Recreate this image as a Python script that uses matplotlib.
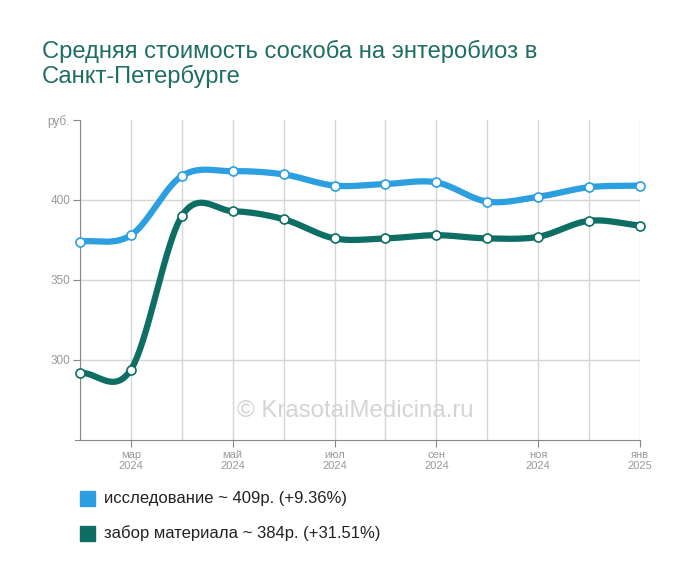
import numpy as np
import matplotlib.pyplot as plt
from matplotlib.patches import Rectangle

plt.rcParams['font.family'] = ['Liberation Sans', 'DejaVu Sans']

months = ["фев 2024", "мар 2024", "апр 2024", "май 2024", "июн 2024", "июл 2024",
          "авг 2024", "сен 2024", "окт 2024", "ноя 2024", "дек 2024", "янв 2025"]
tick_idx = [1, 3, 5, 7, 9, 11]
tick_labels = ["мар\n2024", "май\n2024", "июл\n2024", "сен\n2024", "ноя\n2024", "янв\n2025"]
research = [374, 378, 415, 418, 416, 409, 410, 411, 399, 402, 408, 409]
sampling = [292, 294, 390, 393, 388, 376, 376, 378, 376, 377, 387, 384]
names = ["исследование ~ 409р. (+9.36%)", "забор материала ~ 384р. (+31.51%)"]
colors = ["#2b9fe0", "#0d6e64"]


def smooth(y, n=30):
    # catmull-rom style curve through the points
    y = np.asarray(y, float)
    m = np.gradient(y)
    xs, ys = [], []
    for i in range(len(y) - 1):
        t = np.linspace(0, 1, n, endpoint=False)
        h00 = 2 * t**3 - 3 * t**2 + 1
        h10 = t**3 - 2 * t**2 + t
        h01 = -2 * t**3 + 3 * t**2
        h11 = t**3 - t**2
        xs.append(i + t)
        ys.append(h00 * y[i] + h10 * m[i] + h01 * y[i + 1] + h11 * m[i + 1])
    xs.append([len(y) - 1])
    ys.append([y[-1]])
    return np.concatenate(xs), np.concatenate(ys)


fig = plt.figure(figsize=(7, 5.83), dpi=100)
ax = fig.add_axes([80 / 700, 143 / 583, 560 / 700, 320 / 583])

x = np.arange(len(months))
for vals, c in zip([research, sampling], colors):
    sx, sy = smooth(vals)
    ax.plot(sx, sy, color=c, lw=4.5, solid_capstyle="round", zorder=3, clip_on=False)
    ax.plot(x, vals, "o", ms=6.5, mfc="white", mec=c, mew=1.2, zorder=4, clip_on=False)

ax.set_xlim(0, 11)
ax.set_ylim(250, 450)
ax.set_yticks([300, 350, 400, 450])
ax.set_yticklabels(["300", "350", "400", "руб."])
ax.set_xticks(x, minor=True)
ax.set_xticks(tick_idx)
ax.set_xticklabels(tick_labels)
ax.grid(True, which="both", axis="x", color="#d6d6d6", lw=1)
ax.grid(True, axis="y", color="#d6d6d6", lw=1)
ax.yaxis.get_gridlines()[-1].set_visible(False)
ax.tick_params(axis="x", which="minor", length=0)
ax.tick_params(axis="x", which="major", length=5, color="#888888",
               labelsize=8, labelcolor="#999999", pad=2)
ax.tick_params(axis="y", length=5, color="#888888", labelsize=8.5,
               labelcolor="#999999", pad=2)
for s in ["top", "right"]:
    ax.spines[s].set_visible(False)
for s in ["left", "bottom"]:
    ax.spines[s].set_color("#888888")
ax.spines["bottom"].set_bounds(-0.1, 11)
ax.set_axisbelow(True)

ax.text(5.4, 268, "© KrasotaiMedicina.ru", fontsize=17.3, color="#d4d4d4",
        ha="center", va="center", zorder=1)

fig.text(42 / 700, 1 - 40 / 583, "Средняя стоимость соскоба на энтеробиоз в\nСанкт-Петербурге",
         fontsize=17.1, color="#1f6e63", ha="left", va="top", linespacing=1.07)

for i, (nm, c) in enumerate(zip(names, colors)):
    yc = 1 - (498 + 35 * i) / 583
    fig.patches.append(Rectangle((80 / 700, yc - 8 / 583), 15 / 700, 15 / 583,
                                 transform=fig.transFigure, color=c))
    fig.text(104 / 700, yc, nm, fontsize=12, color="#222222", va="center")

fig.savefig("out.png", dpi=100)
